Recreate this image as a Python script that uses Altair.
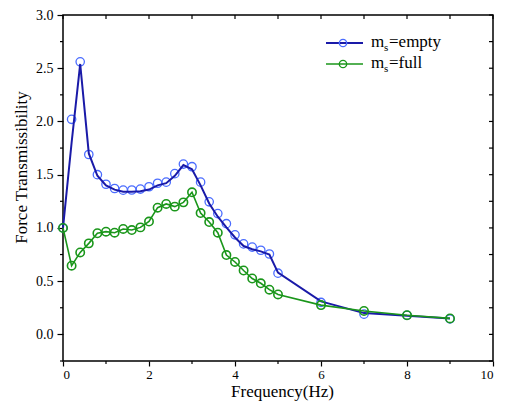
import altair as alt
import pandas as pd

# ---- data ----
freq = [0.0, 0.2, 0.4, 0.6, 0.8, 1.0, 1.2, 1.4, 1.6, 1.8, 2.0, 2.2, 2.4, 2.6, 2.8,
        3.0, 3.2, 3.4, 3.6, 3.8, 4.0, 4.2, 4.4, 4.6, 4.8, 5.0, 6.0, 7.0, 8.0, 9.0]
empty_markers = [1.00, 2.02, 2.56, 1.69, 1.50, 1.41, 1.37, 1.355, 1.356, 1.365, 1.387, 1.42,
                 1.43, 1.51, 1.60, 1.575, 1.43, 1.245, 1.135, 1.04, 0.935, 0.85, 0.82,
                 0.79, 0.755, 0.575, 0.30, 0.19, 0.18, 0.145]
empty_line = [1.00, 1.80, 2.54, 1.70, 1.49, 1.40, 1.36, 1.34, 1.34, 1.345, 1.36, 1.40,
              1.42, 1.49, 1.59, 1.55, 1.40, 1.23, 1.105, 1.005, 0.91, 0.83, 0.80,
              0.78, 0.75, 0.58, 0.31, 0.20, 0.175, 0.15]
full_values = [1.00, 0.645, 0.77, 0.855, 0.95, 0.965, 0.955, 0.99, 0.98, 1.005, 1.06, 1.19,
               1.225, 1.20, 1.24, 1.335, 1.14, 1.055, 0.955, 0.745, 0.68, 0.60, 0.525,
               0.48, 0.42, 0.375, 0.275, 0.22, 0.18, 0.15]

x_major = [0, 2, 4, 6, 8, 10]
x_minor = [1, 3, 5, 7, 9]
x_all = [0, 1, 2, 3, 4, 5, 6, 7, 8, 9, 10]
y_major = [0.0, 0.5, 1.0, 1.5, 2.0, 2.5, 3.0]
y_minor = [-0.25, 0.25, 0.75, 1.25, 1.75, 2.25, 2.75]
y_all = [-0.25, 0.0, 0.25, 0.5, 0.75, 1.0, 1.25, 1.5, 1.75, 2.0, 2.25, 2.5, 2.75, 3.0]

legend_base = ["m", "m"]
legend_sub = ["s", "s"]
legend_rest = ["=empty", "=full"]

FONT = "Liberation Serif"
BLUE_LINE = "#1a1aa8"
BLUE_MARK = "#4a6cff"
GREEN = "#1a961a"

W, H = 430, 346

df = pd.DataFrame({"f": freq, "em": empty_markers, "el": empty_line, "fu": full_values})

xs = alt.Scale(domain=[0, 10], nice=False, zero=False)
ys = alt.Scale(domain=[-0.25, 3.0], nice=False, zero=False)
x_axis = alt.Axis(values=x_major, format="d", tickSize=5, labelPadding=2, labelFontSize=13,
                  title="Frequency(Hz)", titleY=30, titleX=219, titleBaseline="middle")
y_axis = alt.Axis(values=y_major, format=".1f", tickSize=6, labelPadding=4,
                  title="Force Transmissibility", titleX=-42, titleY=152,
                  titleBaseline="middle")


def X(field):
    return alt.X(field, type="quantitative", scale=xs, axis=x_axis)


def Y(field):
    return alt.Y(field, type="quantitative", scale=ys, axis=y_axis)


base = alt.Chart(df)
blue_pts = base.mark_point(shape="circle", size=70, strokeWidth=1.3, color=BLUE_MARK,
                           filled=False, opacity=1).encode(x=X("f"), y=Y("em"))
blue_line = base.mark_line(color=BLUE_LINE, strokeWidth=2).encode(x=X("f"), y=Y("el"))
green_line = base.mark_line(color=GREEN, strokeWidth=1.6).encode(x=X("f"), y=Y("fu"))
green_pts = base.mark_point(shape="circle", size=70, strokeWidth=1.6, color=GREEN,
                            filled=False, opacity=1).encode(x=X("f"), y=Y("fu"))

# inner ticks on top and right, minor ticks outside bottom/left
top_ticks = alt.Chart(pd.DataFrame({"t": x_all})).mark_rule(color="black", strokeWidth=1.2).encode(
    x=X("t"), y=alt.value(0), y2=alt.value(4))
right_ticks = alt.Chart(pd.DataFrame({"t": y_all})).mark_rule(color="black", strokeWidth=1.2).encode(
    y=Y("t"), x=alt.value(W), x2=alt.value(W - 4))
bottom_minor = alt.Chart(pd.DataFrame({"t": x_minor})).mark_rule(color="black", strokeWidth=1.2).encode(
    x=X("t"), y=alt.value(H), y2=alt.value(H + 3))
left_minor = alt.Chart(pd.DataFrame({"t": y_minor})).mark_rule(color="black", strokeWidth=1.2).encode(
    y=Y("t"), x=alt.value(0), x2=alt.value(-3))

# legend
legend_layers = []
rows = [(28, BLUE_LINE, BLUE_MARK, 2.0), (49, GREEN, GREEN, 1.6)]
for i, (yy, lc, mc, lw) in enumerate(rows):
    ld = pd.DataFrame({"b": [legend_base[i]], "s": [legend_sub[i]], "r": [legend_rest[i]]})
    lb = alt.Chart(ld)
    legend_layers.append(lb.mark_rule(color=lc, strokeWidth=lw).encode(
        x=alt.value(263), x2=alt.value(300), y=alt.value(yy)))
    legend_layers.append(lb.mark_point(shape="circle", size=55, strokeWidth=1.3, color=mc,
                                       filled=False, opacity=1).encode(
        x=alt.value(280), y=alt.value(yy)))
    legend_layers.append(lb.mark_text(font=FONT, fontSize=17, align="left", baseline="alphabetic",
                                      color="black").encode(
        x=alt.value(308), y=alt.value(yy + 4), text="b:N"))
    legend_layers.append(lb.mark_text(font=FONT, fontSize=11, align="left", baseline="alphabetic",
                                      color="black").encode(
        x=alt.value(321), y=alt.value(yy + 8), text="s:N"))
    legend_layers.append(lb.mark_text(font=FONT, fontSize=17, align="left", baseline="alphabetic",
                                      color="black").encode(
        x=alt.value(326), y=alt.value(yy + 4), text="r:N"))

chart = alt.layer(
    top_ticks, right_ticks, bottom_minor, left_minor,
    blue_pts, blue_line, green_line, green_pts,
    *legend_layers,
).properties(
    width=W, height=H,
    autosize=alt.AutoSizeParams(type="none"),
    padding={"left": 55, "top": 7, "right": 4, "bottom": 40},
).configure_view(
    stroke="black", strokeWidth=1.5
).configure_axis(
    domain=False, grid=False,
    labelFont=FONT, labelFontSize=14, labelColor="black",
    titleFont=FONT, titleFontSize=17, titleColor="black", titleFontWeight="normal",
    tickColor="black", tickWidth=1.2,
)

chart.save("out.html", embed_options={"renderer": "svg", "actions": False})
